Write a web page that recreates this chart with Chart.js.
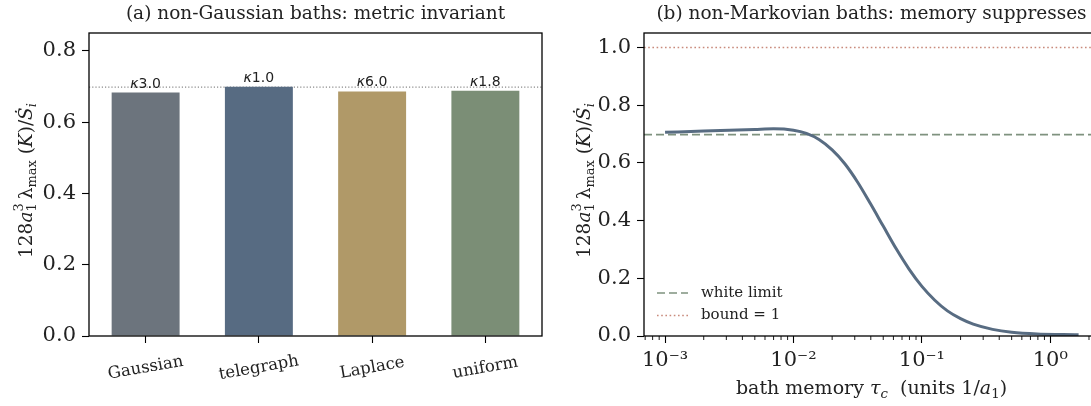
<!DOCTYPE html>
<html>
<head>
<meta charset="utf-8">
<script src="https://cdn.jsdelivr.net/npm/chart.js@4.4.1/dist/chart.umd.min.js"></script>
<style>
  html, body { margin: 0; padding: 0; background: #fff; overflow: hidden; }
  #wrap { position: relative; width: 1091px; height: 406px; overflow: hidden; }
  #panelA { position: absolute; left: 0; top: 0; width: 550px; height: 406px; }
  #panelB { position: absolute; left: 550px; top: 0; width: 560px; height: 406px; }
</style>
</head>
<body>
<div id="wrap">
  <div id="panelA"><canvas id="bathChart"></canvas></div>
  <div id="panelB"><canvas id="memoryChart"></canvas></div>
</div>
<script>
// panel (a): bath types
const categories = ['Gaussian', 'telegraph', 'Laplace', 'uniform'];
const metricValues = [0.683, 0.699, 0.686, 0.688];
const kurtosisLabels = ['3.0', '1.0', '6.0', '1.8'];
const barColors = ['#6c747d', '#576b82', '#b09968', '#7b8e76'];
const leftYTicks = [0, 0.2, 0.4, 0.6, 0.8];

// panel (b): memory time sweep
const tauValues = [0.001, 0.002, 0.00316, 0.005, 0.007, 0.01, 0.0126, 0.0158, 0.02, 0.0251,
  0.0316, 0.0398, 0.0501, 0.0631, 0.0794, 0.1, 0.126, 0.158, 0.2, 0.251, 0.355, 0.5, 0.79, 1.26, 1.66];
const memoryValues = [0.706, 0.710, 0.713, 0.716, 0.718, 0.713, 0.702, 0.681, 0.645, 0.597,
  0.533, 0.458, 0.380, 0.302, 0.232, 0.172, 0.124, 0.087, 0.060, 0.041, 0.023, 0.013, 0.007, 0.005, 0.004];
const whiteLimit = 0.698;
const boundValue = 1;
const rightYTicks = [0, 0.2, 0.4, 0.6, 0.8, 1.0];
const decadeTicks = [1e-3, 1e-2, 1e-1, 1];
const decadeLabels = ['10⁻³', '10⁻²', '10⁻¹', '10⁰'];
const tauMin = Math.pow(10, -3.164);
const tauMax = Math.pow(10, 0.379);

const SERIF = '"DejaVu Serif", serif';
Chart.defaults.font.family = SERIF;
Chart.defaults.color = '#222';

// y label: 128 a_1^3 lambda_max(K) / S_i
const yLabelParts = [
  { t: '128' }, { t: 'a', it: true }, { t: '3', sup: true, keep: true }, { t: '1 ', sub: true },
  { t: 'λ' }, { t: 'max', sub: true }, { t: ' (' }, { t: 'K', it: true }, { t: ')' },
  { t: '/' }, { t: 'Ṡ', it: true }, { t: 'i', it: true, sub: true }
];
const xLabelParts = [
  { t: 'bath memory ' }, { t: 'τ', it: true }, { t: 'c', it: true, sub: true },
  { t: '  (units 1/' }, { t: 'a', it: true }, { t: '1', sub: true }, { t: ')' }
];

function partFont(p, size) {
  const fs = (p.sub || p.sup) ? size * 0.7 : size;
  return (p.it ? 'italic ' : '') + fs + 'px ' + SERIF;
}

function drawRich(ctx, parts, x, y, size, angle) {
  ctx.save();
  ctx.translate(x, y);
  ctx.rotate(angle);
  ctx.textBaseline = 'middle';
  ctx.textAlign = 'left';
  ctx.fillStyle = '#222';
  let total = 0;
  parts.forEach(p => {
    ctx.font = partFont(p, size);
    if (!p.keep) total += ctx.measureText(p.t).width;
  });
  let cx = -total / 2;
  parts.forEach(p => {
    ctx.font = partFont(p, size);
    const dy = p.sub ? size * 0.3 : p.sup ? -size * 0.38 : 0;
    ctx.fillText(p.t, cx, dy);
    if (!p.keep) cx += ctx.measureText(p.t).width;
  });
  ctx.restore();
}

const framePlugin = {
  id: 'frame',
  afterDraw(chart) {
    const { ctx, chartArea: a } = chart;
    ctx.save();
    ctx.strokeStyle = '#000';
    ctx.lineWidth = 1.3;
    ctx.strokeRect(a.left, a.top, a.right - a.left, a.bottom - a.top);
    ctx.restore();
  }
};

const bathExtras = {
  id: 'bathExtras',
  beforeDatasetsDraw(chart) {
    const { ctx, chartArea: a } = chart;
    const y = chart.scales.y.getPixelForValue(whiteLimit);
    ctx.save();
    ctx.strokeStyle = '#8a8a8a';
    ctx.lineWidth = 1.2;
    ctx.setLineDash([1.2, 2]);
    ctx.beginPath();
    ctx.moveTo(a.left, y);
    ctx.lineTo(a.right, y);
    ctx.stroke();
    ctx.restore();
  },
  afterDraw(chart) {
    const { ctx, chartArea: a } = chart;
    const meta = chart.getDatasetMeta(0);
    ctx.save();
    ctx.textBaseline = 'alphabetic';
    meta.data.forEach((bar, i) => {
      ctx.font = 'italic 14px "DejaVu Sans", sans-serif';
      const kw = ctx.measureText('κ').width;
      ctx.font = '14px "DejaVu Sans", sans-serif';
      const nw = ctx.measureText(kurtosisLabels[i]).width;
      const x0 = bar.x - (kw + nw) / 2;
      ctx.fillStyle = '#222';
      ctx.font = 'italic 14px "DejaVu Sans", sans-serif';
      ctx.fillText('κ', x0, bar.y - 5);
      ctx.font = '14px "DejaVu Sans", sans-serif';
      ctx.fillText(kurtosisLabels[i], x0 + kw, bar.y - 5);
    });
    // rotated category labels
    const xs = chart.scales.x;
    categories.forEach((c, i) => {
      ctx.save();
      ctx.translate(xs.getPixelForValue(i), 368);
      ctx.rotate(-10 * Math.PI / 180);
      ctx.font = '16.5px ' + SERIF;
      ctx.textAlign = 'center';
      ctx.textBaseline = 'middle';
      ctx.fillStyle = '#222';
      ctx.fillText(c, 0, 0);
      ctx.restore();
    });
    ctx.restore();
    drawRich(ctx, yLabelParts, 27, (a.top + a.bottom) / 2 - 4, 18.5, -Math.PI / 2);
  }
};

new Chart(document.getElementById('bathChart'), {
  type: 'bar',
  data: {
    labels: categories,
    datasets: [{
      data: metricValues,
      backgroundColor: barColors,
      borderWidth: 0,
      barPercentage: 0.6,
      categoryPercentage: 1
    }]
  },
  options: {
    animation: false,
    responsive: true,
    maintainAspectRatio: false,
    layout: { padding: { left: 40, right: 8, top: 0, bottom: 0 } },
    plugins: {
      legend: { display: false },
      tooltip: { enabled: false },
      title: {
        display: true,
        text: '(a) non-Gaussian baths: metric invariant',
        fullSize: false,
        color: '#222',
        font: { size: 18.5, weight: 'normal' },
        padding: { top: 3, bottom: 7.8 }
      }
    },
    scales: {
      x: {
        grid: { offset: false, drawOnChartArea: false, tickLength: 7, color: '#000', tickWidth: 1.1 },
        border: { display: false },
        ticks: { display: false },
        afterFit: s => { s.height = 70; }
      },
      y: {
        min: 0,
        max: 0.85,
        afterBuildTicks: s => { s.ticks = leftYTicks.map(v => ({ value: v })); },
        afterFit: s => { s.width = 49; },
        grid: { drawOnChartArea: false, tickLength: 7, color: '#000', tickWidth: 1.1 },
        border: { display: false },
        ticks: { padding: 6, color: '#222', font: { size: 21 }, callback: v => v.toFixed(1) }
      }
    }
  },
  plugins: [bathExtras, framePlugin]
});

const memoryExtras = {
  id: 'memoryExtras',
  afterDraw(chart) {
    const { ctx, chartArea: a } = chart;
    const xs = chart.scales.x;
    ctx.save();
    ctx.strokeStyle = '#000';
    ctx.lineWidth = 0.9;
    for (let e = -4; e <= 0; e++) {
      for (let m = 2; m <= 9; m++) {
        const v = m * Math.pow(10, e);
        if (v < xs.min || v > xs.max) continue;
        const px = xs.getPixelForValue(v);
        ctx.beginPath();
        ctx.moveTo(px, a.bottom);
        ctx.lineTo(px, a.bottom + 4);
        ctx.stroke();
      }
    }
    // legend
    const rows = [
      { label: 'white limit', ds: chart.data.datasets[1], y: a.bottom - 43 },
      { label: 'bound = 1', ds: chart.data.datasets[2], y: a.bottom - 20.5 }
    ];
    rows.forEach(r => {
      ctx.strokeStyle = r.ds.borderColor;
      ctx.lineWidth = r.ds.borderWidth;
      ctx.setLineDash(r.ds.borderDash);
      ctx.beginPath();
      ctx.moveTo(a.left + 13, r.y);
      ctx.lineTo(a.left + 44, r.y);
      ctx.stroke();
      ctx.setLineDash([]);
      ctx.fillStyle = '#222';
      ctx.font = '15px ' + SERIF;
      ctx.textBaseline = 'middle';
      ctx.fillText(r.label, a.left + 57, r.y);
    });
    ctx.restore();
    drawRich(ctx, yLabelParts, 35, (a.top + a.bottom) / 2 - 4, 18.5, -Math.PI / 2);
    drawRich(ctx, xLabelParts, (a.left + a.right) / 2, 389, 19, 0);
  }
};

new Chart(document.getElementById('memoryChart'), {
  type: 'line',
  data: {
    datasets: [
      {
        label: 'memory',
        data: tauValues.map((t, i) => ({ x: t, y: memoryValues[i] })),
        borderColor: '#586c82',
        borderWidth: 3,
        pointRadius: 0,
        cubicInterpolationMode: 'monotone'
      },
      {
        label: 'white limit',
        data: [{ x: tauMin, y: whiteLimit }, { x: tauMax, y: whiteLimit }],
        borderColor: '#7f927f',
        borderWidth: 1.6,
        borderDash: [8, 4],
        pointRadius: 0
      },
      {
        label: 'bound = 1',
        data: [{ x: tauMin, y: boundValue }, { x: tauMax, y: boundValue }],
        borderColor: '#c98a7c',
        borderWidth: 1.6,
        borderDash: [1.6, 2.6],
        pointRadius: 0
      }
    ]
  },
  options: {
    animation: false,
    responsive: true,
    maintainAspectRatio: false,
    layout: { padding: { left: 44, right: 11, top: 0, bottom: 0 } },
    plugins: {
      legend: { display: false },
      tooltip: { enabled: false },
      title: {
        display: true,
        text: '(b) non-Markovian baths: memory suppresses',
        fullSize: false,
        color: '#222',
        font: { size: 18.5, weight: 'normal' },
        padding: { top: 3, bottom: 7.8 }
      }
    },
    scales: {
      x: {
        type: 'logarithmic',
        min: tauMin,
        max: tauMax,
        afterBuildTicks: s => { s.ticks = decadeTicks.map(v => ({ value: v })); },
        afterFit: s => { s.height = 70; },
        grid: { drawOnChartArea: false, tickLength: 7, color: '#000', tickWidth: 1.1 },
        border: { display: false },
        ticks: {
          padding: 5, color: '#222', font: { size: 21 }, maxRotation: 0, autoSkip: false,
          callback: v => decadeLabels[decadeTicks.indexOf(v)]
        }
      },
      y: {
        min: 0,
        max: 1.05,
        afterBuildTicks: s => { s.ticks = rightYTicks.map(v => ({ value: v })); },
        afterFit: s => { s.width = 50; },
        grid: { drawOnChartArea: false, tickLength: 7, color: '#000', tickWidth: 1.1 },
        border: { display: false },
        ticks: { padding: 6, color: '#222', font: { size: 21 }, callback: v => v.toFixed(1) }
      }
    }
  },
  plugins: [memoryExtras, framePlugin]
});
</script>
</body>
</html>
